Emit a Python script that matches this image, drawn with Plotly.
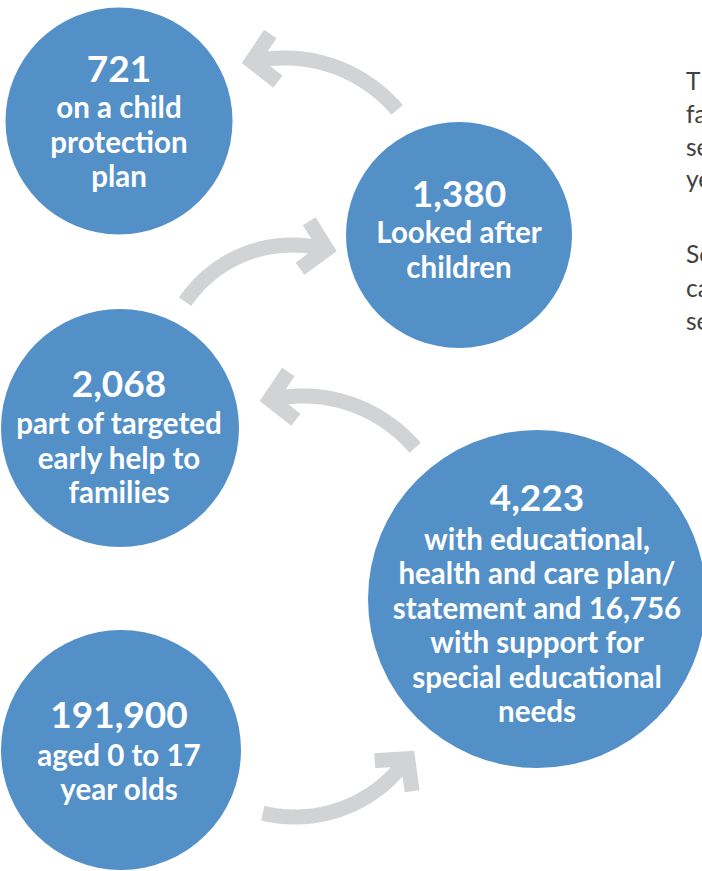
import numpy as np
import plotly.graph_objects as go

W, H = 702, 871

# ---- data ----
values = ["721", "1,380", "2,068", "4,223", "191,900"]
labels = [
    "on a child<br>protection<br>plan",
    "Looked after<br>children",
    "part of targeted<br>early help to<br>families",
    "with educational,<br>health and care plan/<br>statement and 16,756<br>with support for<br>special educational<br>needs",
    "aged 0 to 17<br>year olds",
]
side_text = ["T", "fa", "se", "ye", "Se", "ca", "se"]

# ---- layout positions (pixels) ----
circle_cx = [119, 459, 120, 537, 121]
circle_cy = [121, 235, 428, 599, 750]
circle_r = [113.5, 113, 119, 169, 120]
text_cx = [119, 459, 119, 537, 119]
number_baseline = [83.5, 208.5, 398.5, 513, 729.5]
first_label_gap = [36, 36, 37, 38, 38]
line_gap = [34.5, 35, 34.5, 34.5, 34]
side_x = 686
side_baseline = [91, 124, 157, 189, 264, 298, 331]

# arrows: arc centre x, centre y, radius, start angle, end angle (deg, y down)
arrow_cx = [285, 292, 303, 295]
arrow_cy = [205, 374, 543, 680]
arrow_R = [147, 129, 147, 137]
arrow_t0 = [-40.3, -146, -40.3, 103.6]
arrow_t1 = [-99, -79, -99, 39.2]

# ---- styles ----
BLUE = "#5390C8"
GREY = "#D1D3D4"
TXT = "#404040"
NUM_FS = 37
LAB_FS = 29.5
SIDE_FS = 24.5
THICK = 15
ARM = 40
HALF = np.radians(47)
K_SINGLE = 0.30   # baseline offset below point for single-line text

fig = go.Figure()
shapes = []

# arrows
for cx, cy, R, a0, a1 in zip(arrow_cx, arrow_cy, arrow_R, arrow_t0, arrow_t1):
    th = np.radians(np.linspace(a0, a1, 60))
    xs = cx + R * np.cos(th)
    ys = cy + R * np.sin(th)
    path = "M " + " L ".join(f"{x:.2f},{y:.2f}" for x, y in zip(xs, ys))
    shapes.append(dict(type="path", path=path, xref="x", yref="y",
                       line=dict(color=GREY, width=THICK), layer="below"))
    te = th[-1]
    if a1 > a0:
        trav = np.array([-np.sin(te), np.cos(te)])
    else:
        trav = np.array([np.sin(te), -np.cos(te)])
    I = np.array([xs[-1], ys[-1]])
    T = I + (THICK / np.sin(HALF)) * trav
    u = -trav
    n = np.array([-u[1], u[0]])
    d1 = u * np.cos(HALF) + n * np.sin(HALF)
    d2 = u * np.cos(HALF) - n * np.sin(HALF)
    p1 = u * np.sin(HALF) - n * np.cos(HALF)
    p2 = u * np.sin(HALF) + n * np.cos(HALF)
    pts = [T, T + ARM * d1, T + ARM * d1 + THICK * p1, I,
           T + ARM * d2 + THICK * p2, T + ARM * d2]
    hp = "M " + " L ".join(f"{p[0]:.2f},{p[1]:.2f}" for p in pts) + " Z"
    shapes.append(dict(type="path", path=hp, xref="x", yref="y",
                       fillcolor=GREY, line=dict(width=0), layer="below"))

# circles
for cx, cy, r in zip(circle_cx, circle_cy, circle_r):
    shapes.append(dict(type="circle", xref="x", yref="y",
                       x0=cx - r, x1=cx + r, y0=cy - r, y1=cy + r,
                       fillcolor=BLUE, line=dict(width=0), layer="below"))

# numbers
num_y = [b - K_SINGLE * NUM_FS for b in number_baseline]
fig.add_trace(go.Scatter(
    x=text_cx, y=num_y, text=values, mode="text", textposition="middle center",
    textfont=dict(family="Lato", size=NUM_FS, color="white", weight="bold"),
    hoverinfo="skip", showlegend=False))

# labels, one text point per line
lx, ly, lt = [], [], []
for cx, b, g0, g, lab in zip(text_cx, number_baseline, first_label_gap, line_gap, labels):
    for i, line in enumerate(lab.split("<br>")):
        lx.append(cx)
        ly.append(b + g0 + i * g - K_SINGLE * LAB_FS)
        lt.append(line)
fig.add_trace(go.Scatter(
    x=lx, y=ly, text=lt, mode="text", textposition="middle center",
    textfont=dict(family="Lato", size=LAB_FS, color="white", weight="bold"),
    hoverinfo="skip", showlegend=False))

# side text
fig.add_trace(go.Scatter(
    x=[side_x] * len(side_text), y=[b - K_SINGLE * SIDE_FS for b in side_baseline],
    text=side_text, mode="text", textposition="middle right",
    textfont=dict(family="Lato", size=SIDE_FS, color=TXT),
    hoverinfo="skip", showlegend=False))

fig.update_layout(
    width=W, height=H, margin=dict(l=0, r=0, t=0, b=0),
    paper_bgcolor="white", plot_bgcolor="white",
    xaxis=dict(range=[0, W], visible=False, fixedrange=True),
    yaxis=dict(range=[H, 0], visible=False, fixedrange=True),
    shapes=shapes, showlegend=False,
)

fig.write_html("out.html", config={"displayModeBar": False},
               post_script="document.body.style.margin='0';")
